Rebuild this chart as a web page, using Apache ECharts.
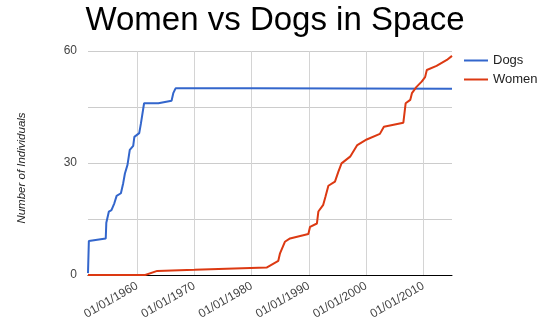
<!DOCTYPE html>
<html>
<head>
<meta charset="utf-8">
<script src="https://cdn.jsdelivr.net/npm/echarts@6/dist/echarts.min.js"></script>
<style>html,body{margin:0;padding:0;background:#fff}#c{width:550px;height:330px}</style>
</head>
<body>
<div id="c"></div>
<script>
const chartTitle = 'Women vs Dogs in Space';
const seriesNames = ['Dogs', 'Women'];
const xTicks = [1960, 1970, 1980, 1990, 2000, 2010];
const yTicks = [0, 30, 60];
const dogYears = [1951.4, 1951.55, 1954.5, 1954.6, 1955.05, 1955.5, 1956, 1956.4, 1957.15, 1957.55, 1957.85, 1958.3, 1958.7, 1959.3, 1959.5, 1960.35, 1960.65, 1961.2, 1963.7, 1966, 1966.3, 1966.7, 1980, 2015];
const dogCounts = [0.5, 9.1, 9.8, 14, 17, 17.4, 19.2, 21.2, 21.9, 24.6, 27.2, 29.5, 33.5, 34.6, 37, 38, 40.6, 46, 46, 46.7, 48.7, 50, 50, 49.9];
const womenYears = [1951.4, 1961.4, 1963.5, 1970, 1982.6, 1984.65, 1984.95, 1985.8, 1986.7, 1989.9, 1990.2, 1991.4, 1991.65, 1992.5, 1992.9, 1993.4, 1994.55, 1995.15, 1995.7, 1997.2, 1998.45, 2000.1, 2002.4, 2003.1, 2006.5, 2006.9, 2007.7, 2008, 2008.8, 2009.7, 2010.3, 2010.6, 2012.3, 2014.1, 2015];
const womenCounts = [0, 0, 1.1, 1.4, 2, 3.8, 5.8, 8.9, 9.8, 11, 12.9, 13.8, 17, 18.8, 21, 23.9, 25, 27.7, 29.9, 31.7, 34.8, 36.3, 37.8, 39.7, 40.8, 46, 46.9, 48.7, 50.4, 51.8, 53, 54.9, 56, 57.6, 58.7];

const zip = (xs, ys) => xs.map((x, i) => [x, ys[i]]);
const font = 'Arial, "Liberation Sans", sans-serif';
const chart = echarts.init(document.getElementById('c'));
chart.setOption({
  animation: false,
  textStyle: { fontFamily: font },
  title: {
    text: chartTitle, left: 'center', top: -1,
    textStyle: { fontSize: 33, fontWeight: 'normal', color: '#000', fontFamily: font }
  },
  legend: {
    orient: 'vertical', left: 459, top: 49, itemGap: 6,
    icon: 'rect', itemWidth: 24, itemHeight: 2,
    textStyle: { fontSize: 13, color: '#222', fontFamily: font },
    data: seriesNames
  },
  grid: { left: 88, right: 98, top: 51, bottom: 55, containLabel: false },
  xAxis: {
    type: 'value', min: 1951.4, max: 2015,
    axisLine: { show: true, lineStyle: { color: '#000', width: 1 } },
    axisTick: { show: false, customValues: xTicks },
    axisLabel: {
      customValues: xTicks, rotate: 30, margin: 10,
      fontSize: 12, color: '#444', fontFamily: font,
      formatter: v => '01/01/' + Math.round(v)
    },
    splitLine: { show: true, lineStyle: { color: '#d4d4d4', width: 1 } }
  },
  yAxis: {
    type: 'value', min: 0, max: 60, interval: 15,
    name: 'Number of Individuals', nameLocation: 'middle', nameGap: 60,
    nameTextStyle: { fontStyle: 'italic', fontSize: 11.5, color: '#222', fontFamily: font, padding: [0, 10, 0, 0] },
    axisLine: { show: false }, axisTick: { show: false },
    axisLabel: {
      margin: 11, fontSize: 12, color: '#444', fontFamily: font,
      formatter: v => (yTicks.indexOf(v) >= 0 ? String(v) : '')
    },
    splitLine: { lineStyle: { color: '#cccccc', width: 1 } }
  },
  series: [
    {
      name: seriesNames[0], type: 'line', data: zip(dogYears, dogCounts),
      showSymbol: false, symbol: 'none', smooth: false,
      lineStyle: { color: '#3366cc', width: 2 }, itemStyle: { color: '#3366cc' }
    },
    {
      name: seriesNames[1], type: 'line', data: zip(womenYears, womenCounts),
      showSymbol: false, symbol: 'none', smooth: false,
      lineStyle: { color: '#dc3912', width: 2 }, itemStyle: { color: '#dc3912' }
    }
  ]
});
</script>
</body>
</html>
